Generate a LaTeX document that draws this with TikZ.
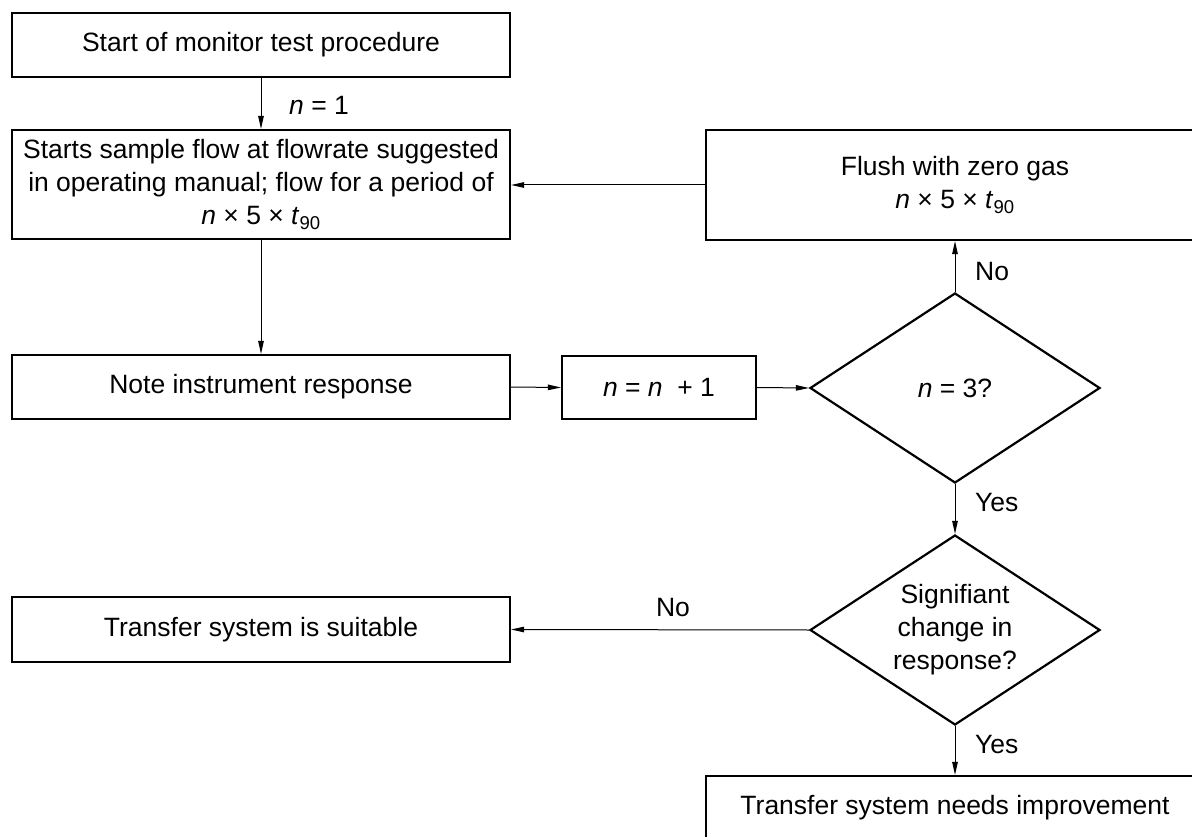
\documentclass[tikz,border=0pt]{standalone}
\usepackage{fontspec}
\setmainfont{Liberation Sans}
\usetikzlibrary{shapes.geometric,arrows.meta}
\newcommand{\fsz}{\fontsize{26.5}{33}\selectfont}
\newcommand{\vn}{\textit{n}}
\newcommand{\tnine}{\textit{t}\textsubscript{90}}
\begin{document}
\begin{tikzpicture}[x=1pt,y=-1pt,
  box/.style={draw,line width=2.2pt,inner sep=0pt,align=center,font=\fsz},
  dec/.style={draw,diamond,line width=2.2pt,inner sep=0pt,align=center,font=\fsz,
    minimum width=290pt,minimum height=190pt,shape aspect=1.526},
  conn/.style={line width=1pt,-{Triangle[length=13pt,width=5.5pt]}},
  lab/.style={font=\fsz,inner sep=0pt}]
\useasboundingbox (0,0) rectangle (1192,837);
\clip (0,0) rectangle (1192,837);
\node[box,minimum width=498pt,minimum height=64pt] (start) at (261,45) {Start of monitor test procedure};
\node[box,minimum width=498pt,minimum height=109pt] (flow) at (261,184.5)
  {Starts sample flow at flowrate suggested\\in operating manual; flow for a period of\\\vn{} × 5 × \tnine};
\node[box,minimum width=498pt,minimum height=64pt] (note) at (261,387) {Note instrument response};
\node[box,minimum width=194pt,minimum height=63pt] (inc) at (659,387.5) {\vn{} = \vn{}\ \ + 1};
\node[dec] (d1) at (955,388) {\vn{} = 3?};
\node[box,minimum width=498pt,minimum height=110pt] (flush) at (955,185) {Flush with zero gas\\\vn{} × 5 × \tnine};
\node[dec] (d2) at (955,630) {Signifiant\\change in\\response?};
\node[box,minimum width=498pt,minimum height=65pt] (suit) at (261,629.5) {Transfer system is suitable};
\node[box,minimum width=498pt,minimum height=64pt] (impr) at (955,808) {Transfer system needs improvement};

\draw[conn] (start.south) -- (flow.north);
\draw[conn] (flush.west) -- (flush.west -| flow.east);
\draw[conn] (flow.south) -- (note.north);
\draw[conn] (note.east) -- (inc.west);
\draw[conn] (inc.east) -- (d1.west);
\draw[conn] (d1.north) -- (flush.south);
\draw[conn] (d1.south) -- (d2.north);
\draw[conn] (d2.west) -- (suit.east);
\draw[conn] (d2.south) -- (impr.north);

\node[lab,anchor=west] (l1) at (289,105) {\vn{} = 1};
\node[lab,anchor=west] (l2) at (975,272) {No};
\node[lab,anchor=west] (l3) at (975,503) {Yes};
\node[lab] (l4) at (673,608) {No};
\node[lab,anchor=west] (l5) at (975,745) {Yes};
\end{tikzpicture}
\end{document}
